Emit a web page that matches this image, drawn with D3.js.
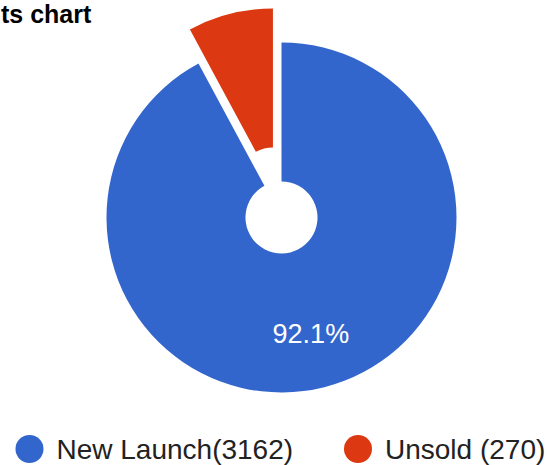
<!DOCTYPE html>
<html>
<head>
<meta charset="utf-8">
<script src="https://cdn.jsdelivr.net/npm/d3@7"></script>
<style>
  html, body { margin: 0; padding: 0; background: #fff; overflow: hidden; }
  svg { display: block; font-family: Arial, "Liberation Sans", sans-serif; }
</style>
</head>
<body>
<script>
// chart data
const labels = ['New Launch', 'Unsold'];
const values = [3162, 270];
const colors = ['#3366cc', '#dc3912'];
const offsets = [0, 0.2]; // exploded slice, fraction of radius
const title = 'ts chart';

const width = 547;
const height = 465;
const cx = 281.5, cy = 217.5;
const radius = 175;
const hole = 36;

const svg = d3.select('body')
  .append('svg')
  .attr('width', width)
  .attr('height', height);

// title (the source image is cropped on the left)
svg.append('text')
  .attr('x', 1)
  .attr('y', 23)
  .attr('font-size', 25)
  .attr('font-weight', 'bold')
  .attr('fill', '#000')
  .text(title);

const pie = d3.pie().sort(null).value(d => d)(values);
const total = d3.sum(values);

const arc = d3.arc().innerRadius(hole).outerRadius(radius);
const labelArc = d3.arc().innerRadius(120).outerRadius(120);

const g = svg.append('g')
  .attr('transform', `translate(${cx},${cy})`);

g.selectAll('path')
  .data(pie)
  .enter()
  .append('path')
  .attr('d', arc)
  .attr('fill', (d, i) => colors[i])
  .attr('transform', (d, i) => {
    const a = (d.startAngle + d.endAngle) / 2;
    const off = offsets[i] * radius;
    return `translate(${Math.sin(a) * off},${-Math.cos(a) * off})`;
  });

// percent labels (small slices stay unlabeled)
g.selectAll('text.pct')
  .data(pie.filter(d => d.value / total > 0.1))
  .enter()
  .append('text')
  .attr('class', 'pct')
  .attr('x', d => labelArc.centroid(d)[0])
  .attr('y', d => labelArc.centroid(d)[1])
  .attr('dy', '0.35em')
  .attr('text-anchor', 'middle')
  .attr('font-size', 27)
  .attr('fill', '#fff')
  .text(d => (d.value / total * 100).toFixed(1) + '%');

// legend
const legendX = [29.5, 358];
const legend = svg.selectAll('g.legend')
  .data(labels)
  .enter()
  .append('g')
  .attr('class', 'legend')
  .attr('transform', (d, i) => `translate(${legendX[i]},449)`);

legend.append('circle')
  .attr('r', 14)
  .attr('fill', (d, i) => colors[i]);

legend.append('text')
  .attr('x', 27)
  .attr('y', 10)
  .attr('font-size', 28)
  .attr('fill', '#222')
  .text((d, i) => i === 0 ? `${d}(${values[i]})` : `${d} (${values[i]})`);
</script>
</body>
</html>
